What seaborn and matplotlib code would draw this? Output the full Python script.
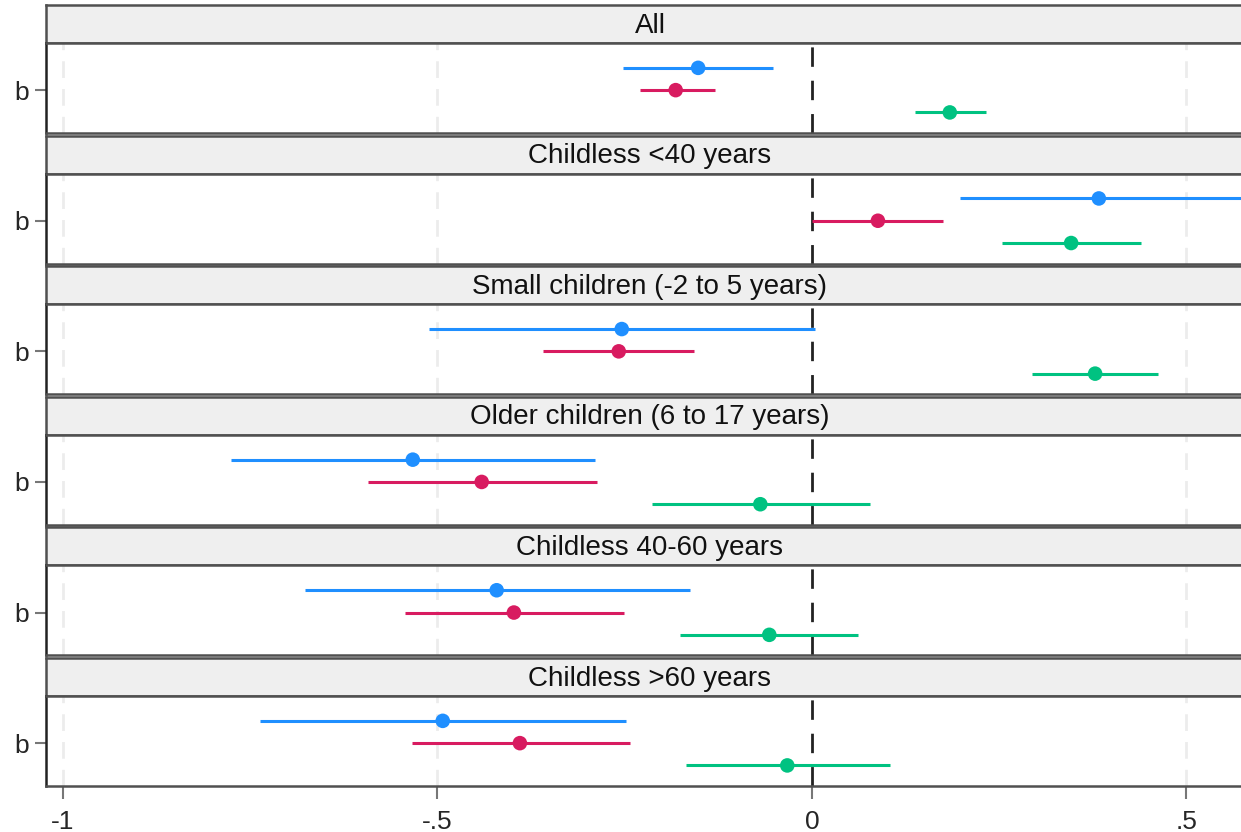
import numpy as np
import pandas as pd
import seaborn as sns
import matplotlib.pyplot as plt

# panels (top to bottom)
groups = [
    "All",
    "Childless <40 years",
    "Small children (-2 to 5 years)",
    "Older children (6 to 17 years)",
    "Childless 40-60 years",
    "Childless >60 years",
]
series = ["s1", "s2", "s3"]

# point estimates and confidence bounds, one list per series
est_s1 = [-0.152, 0.383, -0.254, -0.533, -0.421, -0.493]
lo_s1 = [-0.252, 0.198, -0.511, -0.776, -0.677, -0.737]
hi_s1 = [-0.052, 0.650, 0.004, -0.290, -0.163, -0.248]

est_s2 = [-0.182, 0.088, -0.258, -0.441, -0.398, -0.390]
lo_s2 = [-0.230, 0.000, -0.359, -0.593, -0.543, -0.534]
hi_s2 = [-0.130, 0.175, -0.158, -0.287, -0.251, -0.243]

est_s3 = [0.184, 0.346, 0.378, -0.069, -0.057, -0.033]
lo_s3 = [0.138, 0.254, 0.294, -0.214, -0.176, -0.168]
hi_s3 = [0.232, 0.439, 0.462, 0.077, 0.061, 0.104]

xticks = [-1, -0.5, 0, 0.5]
xticklabels = ["-1", "-.5", "0", ".5"]

colors = {"s1": "#1f8fff", "s2": "#d81b60", "s3": "#00c281"}
offsets = {"s1": -0.26, "s2": 0.0, "s3": 0.26}

rows = []
for s, est, lo, hi in zip(series, [est_s1, est_s2, est_s3],
                          [lo_s1, lo_s2, lo_s3], [hi_s1, hi_s2, hi_s3]):
    for g, e, l, h in zip(groups, est, lo, hi):
        rows.append({"group": g, "series": s, "est": e, "lo": l, "hi": h,
                     "y": offsets[s]})
df = pd.DataFrame(rows)

sns.set_style("white")
plt.rcParams["font.family"] = ["Liberation Sans", "DejaVu Sans"]

W, H = 1241, 832
fig = plt.figure(figsize=(W / 100, H / 100), dpi=100)

x_left_px, x_right_px = 46, 1276
x0_px, unit_px = 812, 749
xlim = ((x_left_px - x0_px) / unit_px, (x_right_px - x0_px) / unit_px)
left = x_left_px / W
width = (x_right_px - x_left_px) / W
frame = "#505050"

period = 130.6
for i, g in enumerate(groups):
    strip_top = 5 + i * period
    strip_bot = 43 + i * period
    pan_bot = 133 + i * period

    # strip
    sax = fig.add_axes([left, 1 - strip_bot / H, width, (strip_bot - strip_top) / H])
    sax.set_facecolor("#efefef")
    sax.set_xticks([])
    sax.set_yticks([])
    for sp in sax.spines.values():
        sp.set_color(frame)
        sp.set_linewidth(1.8)
    fig.text(650 / W, 1 - (strip_top + strip_bot) / 2 / H - 0.002, g,
             ha="center", va="center", fontsize=20, color="#111111")

    # panel
    ax = fig.add_axes([left, 1 - pan_bot / H, width, (pan_bot - strip_bot) / H])
    sub = df[df["group"] == g]
    for xt in xticks:
        if xt != 0:
            ax.axvline(xt, color="#ececec", lw=2, ls=(0, (6, 4)), zorder=0)
    ax.axvline(0, color="#222222", lw=2, ls=(0, (7, 5)), zorder=1)
    ax.hlines(sub["y"], sub["lo"], sub["hi"],
              colors=[colors[s] for s in sub["series"]], lw=2.2, zorder=2)
    sns.scatterplot(data=sub, x="est", y="y", hue="series", palette=colors,
                    s=110, edgecolor="none", legend=False, ax=ax, zorder=3)
    ax.set_xlim(*xlim)
    ax.set_ylim(0.5, -0.55)
    ax.set_yticks([0])
    ax.set_yticklabels(["b"], fontsize=19)
    ax.set_xlabel("")
    ax.set_ylabel("")
    ax.tick_params(axis="y", left=True, length=8, width=1.5,
                   color="#777777", pad=4)
    ax.set_xticks(xticks)
    if i == len(groups) - 1:
        ax.set_xticklabels(xticklabels, fontsize=19)
        ax.tick_params(axis="x", length=9, width=1.5, color="#777777",
                       pad=8, bottom=True)
    else:
        ax.set_xticklabels([])
        ax.tick_params(axis="x", length=0)
    for sp in ax.spines.values():
        sp.set_color(frame)
        sp.set_linewidth(1.8)
    ax.spines["left"].set_color("#222222")

fig.savefig("out.png", dpi=100)
